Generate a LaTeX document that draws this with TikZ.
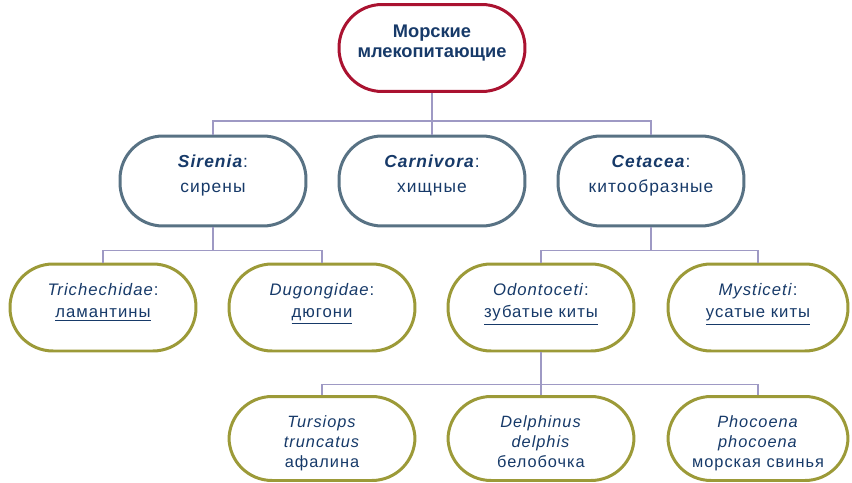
\documentclass[tikz,border=0pt]{standalone}
\usepackage{fontspec}
\setmainfont{Liberation Sans}[LetterSpace=6]
\definecolor{textblue}{HTML}{173A69}
\definecolor{rootred}{HTML}{AA1230}
\definecolor{ordergray}{HTML}{587284}
\definecolor{familyolive}{HTML}{9C9A38}
\definecolor{linkgray}{HTML}{9E99C4}
\begin{document}
\begin{tikzpicture}[x=0.02cm,y=-0.02cm,
    every node/.style={text=textblue, align=center},
    box/.style={draw, fill=white, rounded corners=0.86cm, line width=1.7pt,
      minimum width=3.72cm, minimum height=1.74cm, text depth=8pt},
    rootbox/.style={box, draw=rootred,
      font=\fontsize{10.4}{11.5}\selectfont\bfseries\addfontfeatures{LetterSpace=0}},
    orderbox/.style={box, draw=ordergray, minimum height=1.8cm, font=\fontsize{9.9}{14.2}\selectfont},
    familybox/.style={box, draw=familyolive, font=\fontsize{9.5}{13}\selectfont},
    speciesbox/.style={box, draw=familyolive, minimum height=1.68cm, text height=33pt, text depth=0pt,
      font=\fontsize{9.3}{11.3}\selectfont},
    link/.style={draw=linkgray, line width=0.75pt}]
  \useasboundingbox (0,0) rectangle (852,483);

  \node[rootbox] (root) at (432,48) {Морские\\млекопитающие}; % top

  \node[orderbox] (sirenia) at (213,181) {\textbf{\textit{Sirenia}}:\\сирены};
  \node[orderbox] (carnivora) at (432,181) {\textbf{\textit{Carnivora}}:\\хищные};
  \node[orderbox] (cetacea) at (651,181) {\textbf{\textit{Cetacea}}:\\китообразные};

  \node[familybox] (trichechidae) at (103,307.5) {\textit{Trichechidae}:\\\underline{ламантины}};
  \node[familybox] (dugongidae) at (322,307.5) {\textit{Dugongidae}:\\\underline{дюгони}};
  \node[familybox] (odontoceti) at (541,307.5) {\textit{Odontoceti}:\\\underline{зубатые киты}};
  \node[familybox, minimum width=3.6cm] (mysticeti) at (758,307.5) {\textit{Mysticeti}:\\\underline{усатые киты}};

  \node[speciesbox] (tursiops) at (322,438.5) {\textit{Tursiops}\\\textit{truncatus}\\афалина};
  \node[speciesbox] (delphinus) at (541,438.5) {\textit{Delphinus}\\\textit{delphis}\\белобочка};
  \node[speciesbox, minimum width=3.6cm] (phocoena) at (758,438.5) {\textit{Phocoena}\\\textit{phocoena}\\морская свинья};

  % links
  \draw[link] (root.south) -- ++(0,28) coordinate (rootfork) -| (sirenia.north);
  \draw[link] (rootfork) -| (cetacea.north);
  \draw[link] (rootfork) -- (carnivora.north);
  \draw[link] (sirenia.south) -- ++(0,23) coordinate (sirfork) -| (trichechidae.north);
  \draw[link] (sirfork) -| (dugongidae.north);
  \draw[link] (cetacea.south) -- ++(0,23) coordinate (cetfork) -| (odontoceti.north);
  \draw[link] (cetfork) -| (mysticeti.north);
  \draw[link] (odontoceti.south) -- ++(0,32) coordinate (odofork) -| (tursiops.north);
  \draw[link] (odofork) -| (phocoena.north);
  \draw[link] (odofork) -- (delphinus.north);
\end{tikzpicture}
\end{document}
